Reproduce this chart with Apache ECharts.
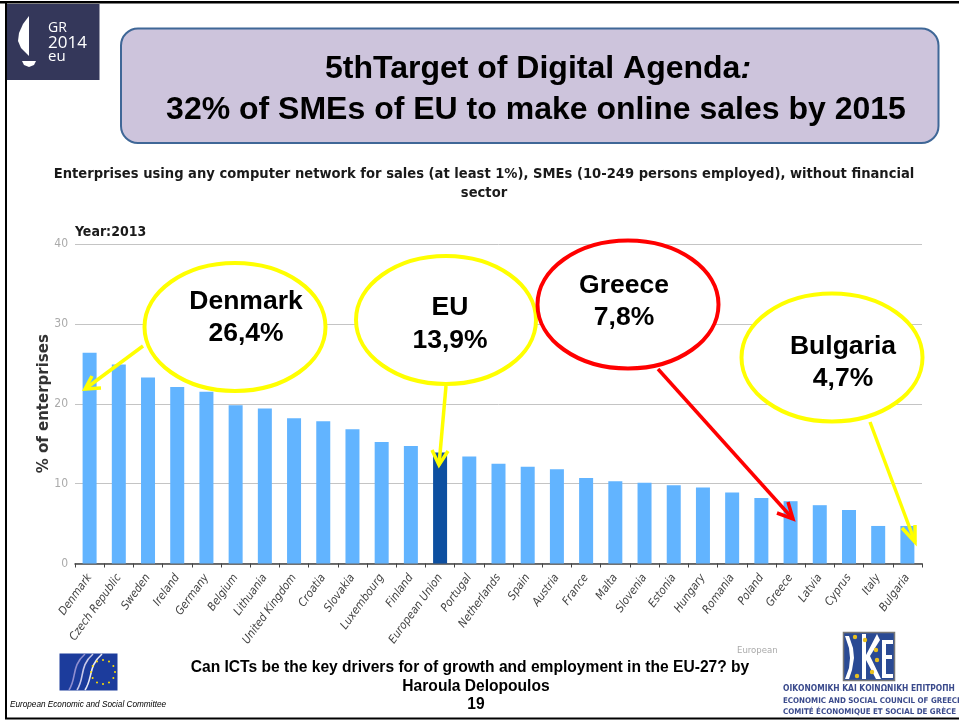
<!DOCTYPE html>
<html><head><meta charset="utf-8">
<style>html,body{margin:0;padding:0;background:#fff}#c{width:959px;height:720px}</style>
<script src="https://cdn.jsdelivr.net/npm/echarts@6/dist/echarts.min.js"></script>
</head><body><div id="c"></div>
<script>
const categories = ["Denmark","Czech Republic","Sweden","Ireland","Germany","Belgium","Lithuania","United Kingdom","Croatia","Slovakia","Luxembourg","Finland","European Union","Portugal","Netherlands","Spain","Austria","France","Malta","Slovenia","Estonia","Hungary","Romania","Poland","Greece","Latvia","Cyprus","Italy","Bulgaria"];
const values = [26.4,24.9,23.3,22.1,21.5,19.8,19.4,18.2,17.8,16.8,15.2,14.7,13.9,13.4,12.5,12.1,11.8,10.7,10.3,10.1,9.8,9.5,8.9,8.2,7.8,7.3,6.7,4.7,4.7];
const yTicks = [0,10,20,30,40];
const highlighted = "European Union";

const SLIDE = '"Liberation Sans", Arial, sans-serif';
const COND = '"DejaVu Sans Condensed", "DejaVu Sans", sans-serif';
const YEL = '#ffff00', RED = '#ff0000';

function txt(x,y,text,font,fill,align,extra){
  return Object.assign({type:'text',z:20,style:{x,y,text,font,fill,align:align||'center',verticalAlign:'middle'}},extra||{});
}
function poly(points,fill){ return {type:'polygon',z:6,shape:{points},style:{fill}}; }
function callout(cx,cy,rx,ry,color,l1,l2,tx,y1,y2){
  return [
    {type:'ellipse',z:10,shape:{cx,cy,rx,ry},style:{fill:'#fff',stroke:color,lineWidth:4}},
    txt(tx,y1,l1,'bold 26.5px '+SLIDE,'#000'),
    txt(tx,y2,l2,'bold 26.5px '+SLIDE,'#000')
  ];
}
function arrow(p0,tip,b1,b2,color,w){
  return [
    {type:'polyline',z:11,shape:{points:[p0,tip]},style:{stroke:color,lineWidth:w,fill:null}},
    {type:'polyline',z:11,shape:{points:[b1,tip,b2]},style:{stroke:color,lineWidth:w,fill:null}}
  ];
}
const g = [];
// slide frame
g.push({type:'rect',z:1,shape:{x:0,y:1,width:959,height:2.5},style:{fill:'#000'}});
g.push({type:'rect',z:1,shape:{x:5,y:1,width:2,height:718},style:{fill:'#000'}});
g.push({type:'rect',z:1,shape:{x:5,y:717.5,width:954,height:2},style:{fill:'#000'}});
// header box
g.push({type:'rect',z:5,shape:{x:121,y:28.5,width:817.5,height:114.5,r:17},style:{fill:'#cdc4dc',stroke:'#3f6797',lineWidth:2}});
g.push({type:'text',z:20,style:{x:538,y:69,align:'center',verticalAlign:'middle',
  text:'{a|5thTarget of Digital Agenda}{b|:}',rich:{a:{font:'bold 32px '+SLIDE,fill:'#000'},b:{font:'italic bold 32px '+SLIDE,fill:'#000'}}}});
g.push(txt(536,110,'32% of SMEs of EU to make online sales by 2015','bold 32px '+SLIDE,'#000'));
// GR2014 logo
g.push({type:'rect',z:5,shape:{x:7,y:4,width:92.5,height:76},style:{fill:'#34375a'}});
g.push(poly([[29,16],[23,24],[19,33],[18,41],[21,48],[25,52],[29,56]],'#fff'));
g.push(poly([[22,61],[36,61],[34,65],[29,67],[24,65]],'#fff'));
g.push(txt(48,28,'GR','14px "Open Sans"','#fff','left'));
g.push(txt(48,43,'2014','17px "Open Sans"','#fff','left'));
g.push(txt(48,57,'eu','15px "Open Sans"','#fff','left'));
// chart headings
g.push(txt(484,174,'Enterprises using any computer network for sales (at least 1%), SMEs (10-249 persons employed), without financial','bold 14.6px '+COND,'#1a1a1a'));
g.push(txt(484,193,'sector','bold 14.6px '+COND,'#1a1a1a'));
g.push(txt(75,232,'Year:2013','bold 14px '+COND,'#1a1a1a','left'));
// callouts
g.push(...arrow([143,346],[85,389],[92,376],[101,388],YEL,3.5));
g.push(...arrow([446,386],[439,465],[432,450],[448,451],YEL,3.5));
g.push(...arrow([658,369],[793,519],[777,513],[788,502],RED,3.5));
g.push(...arrow([870,422],[915,542],[902,528],[915,525],YEL,3.5));
g.push(...callout(235,327,90.5,64,YEL,'Denmark','26,4%',246,302,334));
g.push(...callout(446,320,90,64,YEL,'EU','13,9%',450,308,341));
g.push(...callout(628,304.5,90.5,64,RED,'Greece','7,8%',624,286,318));
g.push(...callout(832,357.5,90.5,64,YEL,'Bulgaria','4,7%',843,347,379));
// footer
g.push(txt(470,668,'Can ICTs be the key drivers for of growth and employment in the EU-27? by','bold 15.6px '+SLIDE,'#000'));
g.push(txt(476,687,'Haroula Delopoulos','bold 15.6px '+SLIDE,'#000'));
g.push(txt(476,705,'19','bold 15.6px '+SLIDE,'#000'));
g.push(txt(737,651,'European','9.5px '+COND,'#aaa','left'));
g.push(txt(10,705,'European Economic and Social Committee','italic 8.2px '+SLIDE,'#000','left'));
// EESC logo
g.push({type:'rect',z:5,shape:{x:59.5,y:653.5,width:58,height:37},style:{fill:'#1c3c9c'}});
[[69,690,85,654,'#8f8fd0'],[77,690,93,654,'#c8c8e8'],[85,690,102,654,'#e8e8f4']].forEach(a=>{
  g.push({type:'bezierCurve',z:6,shape:{x1:a[0],y1:a[1],x2:a[2],y2:a[3],cpx1:a[0]+8,cpy1:a[1]-12,cpx2:a[2]-14,cpy2:a[3]+12},style:{fill:null,stroke:a[4],lineWidth:1.6}});
});
for(let i=0;i<12;i++){const t=i*Math.PI/6;
  g.push({type:'circle',z:7,shape:{cx:103+12*Math.cos(t),cy:672+12*Math.sin(t),r:1},style:{fill:'#ffe100'}});}
// IKE logo
g.push({type:'rect',z:5,shape:{x:843.5,y:632.5,width:51,height:48},style:{fill:'#2a4a94',stroke:'#777',lineWidth:1.5}});
g.push(poly([[845,636],[849,636],[853,648],[854,658],[852,670],[849,679],[845,679],[849,668],[850,658],[849,648]],'#fff'));
g.push(poly([[862,634],[866,634],[866,655],[877,634],[880,640],[870,656],[881,679],[876,679],[866,660],[866,679],[862,679]],'#fff'));
g.push(poly([[882,640],[893,640],[893,644],[886,644],[886,655],[892,655],[892,659],[886,659],[886,674],[893,674],[893,678],[882,678]],'#fff'));
[[855,637],[865,640],[877,660],[876,650],[872,672],[857,676]].forEach(p=>{
  g.push({type:'circle',z:7,shape:{cx:p[0],cy:p[1],r:2.2},style:{fill:'#e8c020'}});
});
g.push(txt(783,689,'ΟΙΚΟΝΟΜΙΚΗ ΚΑΙ ΚΟΙΝΩΝΙΚΗ ΕΠΙΤΡΟΠΗ','bold 8.4px '+COND,'#3a4a8c','left'));
g.push(txt(783,701,'ECONOMIC AND SOCIAL COUNCIL OF GREECE','bold 7.9px '+COND,'#3a4a8c','left'));
g.push(txt(783,712,'COMITÉ ÉCONOMIQUE ET SOCIAL DE GRÈCE','bold 7.9px '+COND,'#3a4a8c','left'));

const chart = echarts.init(document.getElementById('c'),null,{renderer:'canvas'});
chart.setOption({
  animation:false,
  backgroundColor:'#fff',
  grid:{left:75,right:37,top:244,height:319.5,containLabel:false},
  xAxis:{type:'category',data:categories,
    axisLine:{lineStyle:{color:'#444',width:1.5}},
    axisTick:{show:true,length:4,alignWithLabel:false,lineStyle:{color:'#444'}},
    axisLabel:{interval:0,rotate:54,margin:12,fontFamily:'"DejaVu Sans Condensed","DejaVu Sans"',fontStyle:'italic',fontSize:11.5,color:'#444'}},
  yAxis:{type:'value',min:0,max:40,interval:10,
    name:'% of enterprises',nameLocation:'middle',nameGap:23,nameRotate:90,nameMoveOverlap:false,
    nameTextStyle:{fontFamily:'"DejaVu Sans"',fontWeight:'bold',fontSize:15,color:'#333'},
    axisLine:{show:false},axisTick:{show:false},
    axisLabel:{margin:7,fontFamily:'"DejaVu Sans Condensed","DejaVu Sans"',fontSize:12,color:'#aaa',
      formatter:v=>yTicks.includes(v)?String(v):''},
    splitLine:{lineStyle:{color:'#c4c4c4',width:1}}},
  series:[{type:'bar',barWidth:14,
    data:categories.map((c,i)=>({value:values[i],itemStyle:{color:c===highlighted?'#0d4fa0':'#62b4ff'}}))}],
  graphic:{elements:g}
});
</script></body></html>
